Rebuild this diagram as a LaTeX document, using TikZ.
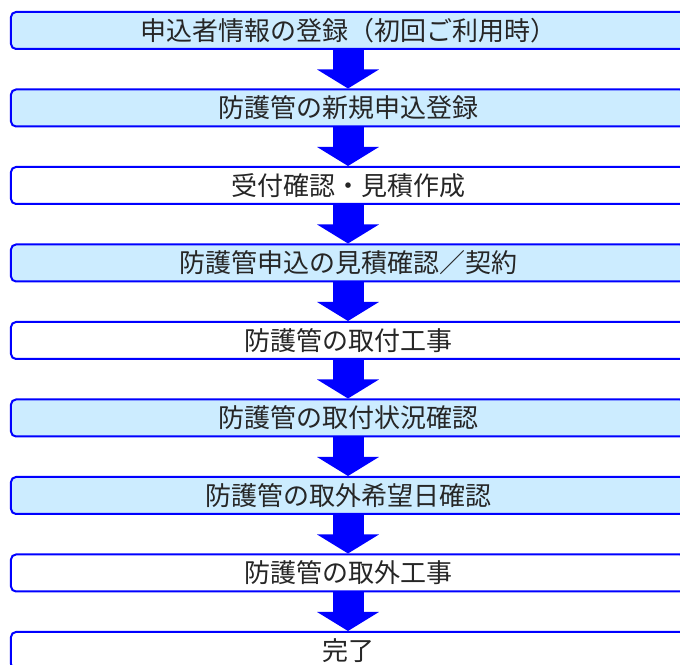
\documentclass[tikz,border=0pt]{standalone}
\usepackage{fontspec}
\newfontfamily\jpfont{Noto Sans CJK JP}
\usetikzlibrary{arrows.meta}
\definecolor{boxfill}{HTML}{CCECFF}
\tikzset{flowbox/.style = {draw=blue, line width=2bp, rounded corners=5bp, fill=white,
                           minimum width=674bp, minimum height=37bp, inner sep=0pt,
                           font=\jpfont\fontsize{26bp}{30bp}\selectfont, text=black!85}}
\tikzset{flowboxfill/.style = {flowbox, fill=boxfill}}
\tikzset{flowarrow/.style = {draw=blue, line width=31bp, -{Triangle[width=61bp,length=19bp]}}}

\begin{document}
\begin{tikzpicture}[x=1bp,y=1bp]
\useasboundingbox (0,0) rectangle (680,665);
\node[flowboxfill] (reg)    at (348,634.5) {申込者情報の登録（初回ご利用時）};
\node[flowboxfill] (apply)  at (348,557)   {防護管の新規申込登録};
\node[flowbox]     (quote)  at (348,479.5) {受付確認・見積作成};
\node[flowboxfill] (agree)  at (348,402)   {防護管申込の見積確認／契約};
\node[flowbox]     (fit)    at (348,324.5) {防護管の取付工事};
\node[flowboxfill] (check)  at (348,247)   {防護管の取付状況確認};
\node[flowboxfill] (date)   at (348,169.5) {防護管の取外希望日確認};
\node[flowbox]     (remove) at (348,92)    {防護管の取外工事};
\node[flowbox]     (done)   at (348,14.5)  {完了};
% block arrows between the steps
\draw[flowarrow] (reg)    -- (apply);
\draw[flowarrow] (apply)  -- (quote);
\draw[flowarrow] (quote)  -- (agree);
\draw[flowarrow] (agree)  -- (fit);
\draw[flowarrow] (fit)    -- (check);
\draw[flowarrow] (check)  -- (date);
\draw[flowarrow] (date)   -- (remove);
\draw[flowarrow] (remove) -- (done);
\end{tikzpicture}
\end{document}
